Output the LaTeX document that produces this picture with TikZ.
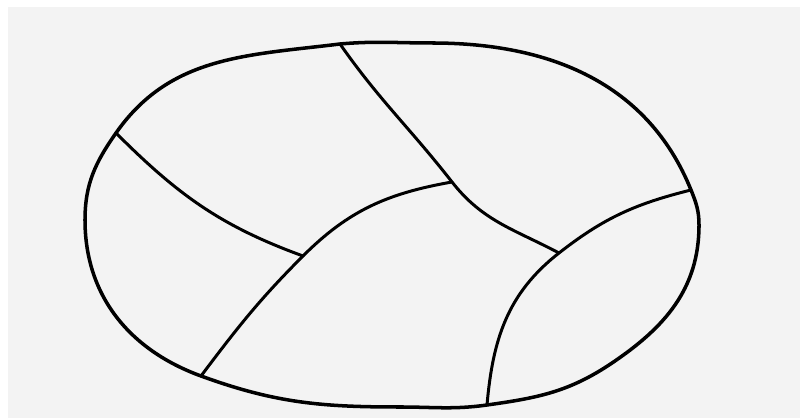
\documentclass[tikz,border=0pt]{standalone}
\usepackage{xcolor}
\usepackage{tikz}
\usetikzlibrary{
    positioning,
    calc,
}
\definecolor{paper}{HTML}{F3F3F3}
\tikzset{
    % Line styles
    outline/.style={draw=black, line width=2pt, line join=round},
    seam/.style={draw=black, line width=1.7pt, line cap=round},
}

\begin{document}
\begin{tikzpicture}[x=0.02cm, y=0.02cm]
    % Background
    \fill[white] (0, 0) rectangle (800, 418);
    \fill[paper] (8, 0) rectangle (800, 411);
    \useasboundingbox (0, 0) rectangle (800, 418);

    % Rim points
    \coordinate (rim left) at (85, 198);
    \coordinate (rim top) at (432, 375);
    \coordinate (rim right) at (699, 193);
    \coordinate (rim corner) at (612, 55);
    \coordinate (rim bottom) at (400, 11);

    % Junctions
    \coordinate (left top) at (116, 285);
    \coordinate (top) at (340, 374);
    \coordinate (mid left) at (303, 162);
    \coordinate (mid top) at (452, 236);
    \coordinate (left bottom) at (201, 42);
    \coordinate (mid right) at (559, 165);
    \coordinate (right) at (691, 228);
    \coordinate (bottom) at (487, 13);

    % Outline
    \draw[outline] (rim left) to[out=90, in=235] (left top)
        to[out=55, in=187] (top)
        to[out=5, in=180] (rim top)
        to[out=0, in=112] (right)
        to[out=-68, in=90] (rim right)
        to[out=-90, in=34] (rim corner)
        to[out=214, in=8] (bottom)
        to[out=188, in=0] (rim bottom)
        to[out=180, in=-20] (left bottom)
        to[out=160, in=-90] (rim left) -- cycle;

    % Seams
    \draw[seam] (left top) to[out=-45, in=160] (mid left);
    \draw[seam] (top) to[out=-55, in=128] (mid top) to[out=-52, in=152] (mid right);
    \draw[seam] (left bottom) to[out=53, in=-135] (mid left) to[out=45, in=190] (mid top);
    \draw[seam] (right) to[out=194, in=38] (mid right) to[out=218, in=85] (bottom);
\end{tikzpicture}
\end{document}
